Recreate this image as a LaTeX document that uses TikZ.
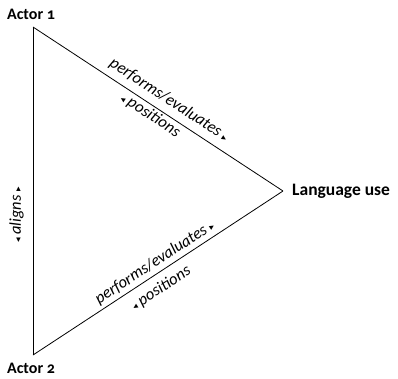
\documentclass[tikz,border=0pt]{standalone}
\usepackage{fontspec}
\setmainfont{Carlito}[Numbers=OldStyle]
\newfontfamily\symfont{DejaVu Sans}
\newcommand{\rtri}{{\symfont\scalebox{0.55}{▸}}}
\newcommand{\ltri}{{\symfont\scalebox{0.55}{◂}}}
\begin{document}
\begin{tikzpicture}[x=1pt,y=1pt,
  actor/.style={font=\fontsize{16}{19}\selectfont\bfseries, inner sep=0pt},
  edgelbl/.style={font=\fontsize{16.5}{19}\selectfont\itshape, sloped, inner sep=0pt},
  edge/.style={line width=0.8pt, draw=black}]
\useasboundingbox (0,0) rectangle (398,-378);
\coordinate (a1) at (33,-27);
\coordinate (a2) at (33,-355);
\coordinate (lu) at (283,-191);
\node[actor] (a1lbl) at (31,-14) {Actor 1};
\node[actor] (a2lbl) at (31,-368) {Actor 2};
\node[actor, anchor=west, font=\fontsize{17.5}{20}\selectfont\bfseries] (lulbl) at (292,-191) {Language use};
\draw[edge] (a1) -- (lu)
  node[edgelbl, pos=0.515, above=6pt] (pe1) {performs/evaluates \rtri}
  node[edgelbl, pos=0.49, below=2pt] (po1) {\ltri\ positions};
\draw[edge] (a2) -- (lu)
  node[edgelbl, pos=0.51, above=3pt] (pe2) {performs/evaluates \rtri}
  node[edgelbl, pos=0.48, below=7pt] (po2) {\ltri\ positions};
\draw[edge] (a2) -- (a1)
  node[edgelbl, pos=0.427, above=9pt] (al) {\ltri\ aligns \rtri};
\end{tikzpicture}
\end{document}
